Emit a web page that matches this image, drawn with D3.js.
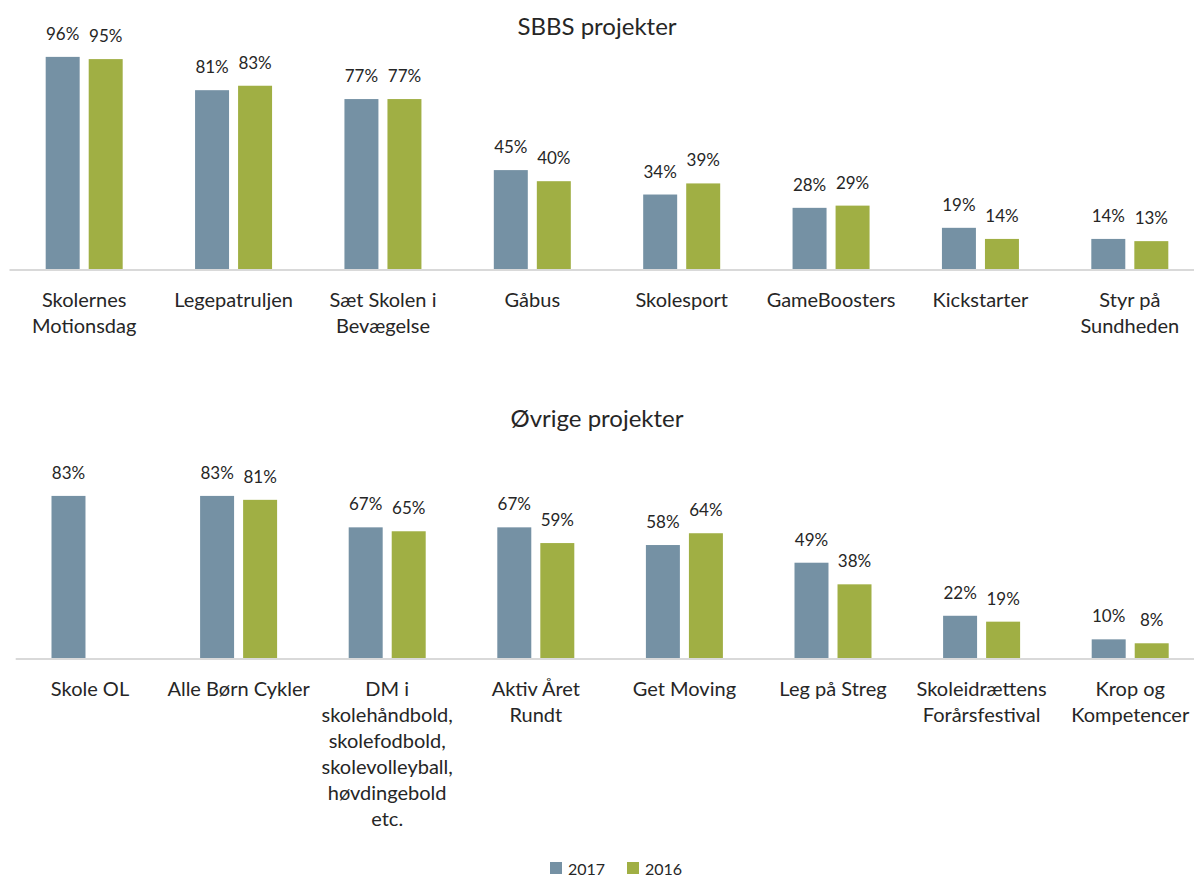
<!DOCTYPE html>
<html>
<head>
<meta charset="utf-8">
<script src="https://cdn.jsdelivr.net/npm/d3@7.9.0/dist/d3.min.js"></script>
<style>
  html, body { margin: 0; padding: 0; background: #fff; }
  svg { display: block; font-family: Lato, "Open Sans", sans-serif; }
</style>
</head>
<body>
<svg id="chart" width="1194" height="877"></svg>
<script>
// SBBS projekter
const sbbsCategories = ["Skolernes\nMotionsdag", "Legepatruljen", "Sæt Skolen i\nBevægelse", "Gåbus",
  "Skolesport", "GameBoosters", "Kickstarter", "Styr på\nSundheden"];
const sbbs2017 = [0.96, 0.81, 0.77, 0.45, 0.34, 0.28, 0.19, 0.14];
const sbbs2016 = [0.95, 0.83, 0.77, 0.40, 0.39, 0.29, 0.14, 0.13];

// Øvrige projekter
const otherCategories = ["Skole OL", "Alle Børn Cykler",
  "DM i\nskolehåndbold,\nskolefodbold,\nskolevolleyball,\nhøvdingebold\netc.",
  "Aktiv Året\nRundt", "Get Moving", "Leg på Streg", "Skoleidrættens\nForårsfestival", "Krop og\nKompetencer"];
const other2017 = [0.83, 0.83, 0.67, 0.67, 0.58, 0.49, 0.22, 0.10];
const other2016 = [null, 0.81, 0.65, 0.59, 0.64, 0.38, 0.19, 0.08];

const seriesNames = ["2017", "2016"];
const colors = { "2017": "#7591a4", "2016": "#a0af44" };
const textColor = "#262626";

const svg = d3.select("#chart");

function drawPanel(opts) {
  const { title, titleY, categories, v2017, v2016, xRange, baseY, fullY } = opts;
  const g = svg.append("g");

  const x = d3.scaleBand().domain(categories).range(xRange).padding(0);
  const x1 = d3.scaleBand().domain(seriesNames).range([-38.5, 38.5]).paddingInner(0.21);
  const y = d3.scaleLinear().domain([0, 1]).range([baseY, fullY]);

  g.append("text")
    .attr("x", 597)
    .attr("y", titleY)
    .attr("text-anchor", "middle")
    .attr("fill", textColor)
    .style("font-size", "24px")
    .text(title);

  const rows = categories.map((c, i) => ({ cat: c, values: [
    { key: "2017", v: v2017[i] },
    { key: "2016", v: v2016[i] }
  ].filter(d => d.v != null) }));

  const groups = g.selectAll(".grp")
    .data(rows)
    .enter().append("g")
    .attr("transform", d => `translate(${x(d.cat) + x.bandwidth() / 2},0)`);

  groups.selectAll("rect")
    .data(d => d.values)
    .enter().append("rect")
    .attr("x", d => x1(d.key))
    .attr("width", x1.bandwidth())
    .attr("y", d => y(d.v))
    .attr("height", d => baseY - y(d.v))
    .attr("fill", d => colors[d.key]);

  groups.selectAll(".val")
    .data(d => d.values)
    .enter().append("text")
    .attr("x", d => x1(d.key) + x1.bandwidth() / 2)
    .attr("y", d => y(d.v) - 17)
    .attr("text-anchor", "middle")
    .attr("fill", textColor)
    .style("font-size", "17px")
    .text(d => d3.format(".0%")(d.v));

  const axis = g.append("g")
    .attr("transform", `translate(0,${baseY})`)
    .call(d3.axisBottom(x).tickSize(0).tickSizeOuter(0).tickPadding(0));

  axis.select(".domain")
    .attr("d", `M${xRange[0]},0H1194`)
    .attr("stroke", "#d9d9d9")
    .attr("stroke-width", 2);

  axis.selectAll(".tick text").each(function (d) {
    const t = d3.select(this);
    t.text(null).attr("dy", null).attr("fill", textColor)
      .style("font-size", "20px").style("font-family", "Lato, 'Open Sans', sans-serif");
    d.split("\n").forEach((line, i) => {
      t.append("tspan").attr("x", 0).attr("y", 37 + i * 26).text(line);
    });
  });
}

drawPanel({
  title: "SBBS projekter", titleY: 35,
  categories: sbbsCategories, v2017: sbbs2017, v2016: sbbs2016,
  xRange: [9.5, 1204.5], baseY: 270, fullY: 48
});

drawPanel({
  title: "Øvrige projekter", titleY: 427,
  categories: otherCategories, v2017: other2017, v2016: other2016,
  xRange: [15.7, 1204.5], baseY: 659, fullY: 462.5
});

// legend
const legend = svg.append("g").attr("transform", "translate(550,862)");
const items = legend.selectAll("g")
  .data(seriesNames)
  .enter().append("g")
  .attr("transform", (d, i) => `translate(${i * 77},0)`);
items.append("rect").attr("width", 12).attr("height", 12).attr("fill", d => colors[d]);
items.append("text")
  .attr("x", 18).attr("y", 13)
  .attr("fill", textColor)
  .style("font-size", "16px")
  .text(d => d);
</script>
</body>
</html>
